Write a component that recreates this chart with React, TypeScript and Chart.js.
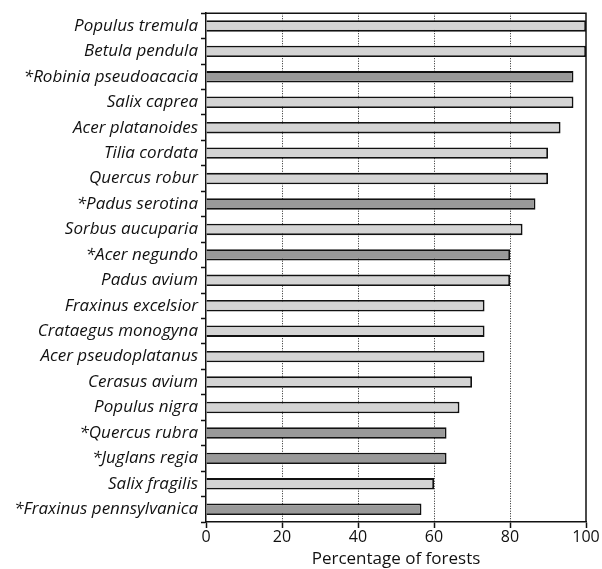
import React, { useEffect, useRef } from "react";
import { Chart, registerables } from "chart.js";

Chart.register(...registerables);

const species = [
  "Populus tremula",
  "Betula pendula",
  "*Robinia pseudoacacia",
  "Salix caprea",
  "Acer platanoides",
  "Tilia cordata",
  "Quercus robur",
  "*Padus serotina",
  "Sorbus aucuparia",
  "*Acer negundo",
  "Padus avium",
  "Fraxinus excelsior",
  "Crataegus monogyna",
  "Acer pseudoplatanus",
  "Cerasus avium",
  "Populus nigra",
  "*Quercus rubra",
  "*Juglans regia",
  "Salix fragilis",
  "*Fraxinus pennsylvanica",
];

const percentages = [
  100, 100, 96.7, 96.7, 93.3, 90, 90, 86.7, 83.3, 80, 80, 73.3, 73.3, 73.3, 70,
  66.7, 63.3, 63.3, 60, 56.7,
];

const xTicks = [0, 20, 40, 60, 80, 100];
const axisTitle = "Percentage of forests";

const LIGHT = "#d4d4d4";
const DARK = "#999999";
const INK = "#111111";

const framePlugin = {
  id: "frame",
  afterDatasetsDraw(chart: any) {
    const { ctx, chartArea } = chart;
    ctx.save();
    ctx.strokeStyle = INK;
    ctx.lineWidth = 1.5;
    ctx.beginPath();
    ctx.moveTo(chartArea.left, chartArea.top);
    ctx.lineTo(chartArea.right, chartArea.top);
    ctx.lineTo(chartArea.right, chartArea.bottom);
    ctx.stroke();
    ctx.restore();
  },
};

export default function App() {
  const ref = useRef<HTMLCanvasElement>(null);
  useEffect(() => {
    document.body.style.margin = "0";
    const chart = new Chart(ref.current!, {
      type: "bar",
      data: {
        labels: species,
        datasets: [
          {
            data: percentages,
            backgroundColor: species.map((s) => (s.startsWith("*") ? DARK : LIGHT)),
            borderColor: INK,
            borderWidth: 1.8,
            barPercentage: 0.45,
            categoryPercentage: 1,
          },
        ],
      },
      options: {
        indexAxis: "y",
        animation: false,
        responsive: false,
        maintainAspectRatio: false,
        layout: { padding: { top: 12, right: 16, bottom: 0, left: 0 } },
        plugins: { legend: { display: false }, tooltip: { enabled: false } },
        scales: {
          x: {
            min: 0,
            max: 100,
            afterBuildTicks: (scale: any) => {
              scale.ticks = xTicks.map((v) => ({ value: v }));
            },
            afterFit: (scale: any) => {
              scale.height = 569 - 522;
            },
            border: { display: true, color: INK, width: 1.5, dash: [1, 1.5] },
            grid: {
              color: (c: any) =>
                c.tick && (c.tick.value === 0 || c.tick.value === 100) ? "rgba(0,0,0,0)" : "#222",
              tickColor: INK,
              lineWidth: 1,
              tickLength: 6,
              tickWidth: 1.5,
            },
            ticks: {
              color: INK,
              font: { family: "Open Sans", size: 16 },
              padding: 0,
            },
            title: {
              display: true,
              text: axisTitle,
              color: INK,
              font: { family: "Open Sans", size: 17 },
              padding: { top: 0, bottom: 0 },
            },
          },
          y: {
            afterFit: (scale: any) => {
              scale.width = 206;
            },
            border: { display: true, color: INK, width: 1.5 },
            grid: {
              offset: true,
              drawOnChartArea: false,
              tickColor: INK,
              tickLength: 5,
              tickWidth: 1.5,
            },
            ticks: {
              color: INK,
              font: { family: "Open Sans", size: 17, style: "italic" },
              padding: 3,
            },
          },
        },
      },
      plugins: [framePlugin],
    });
    return () => chart.destroy();
  }, []);
  return (
    <div style={{ width: 602, height: 569 }}>
      <canvas ref={ref} width={602} height={569} style={{ display: "block" }} />
    </div>
  );
}
